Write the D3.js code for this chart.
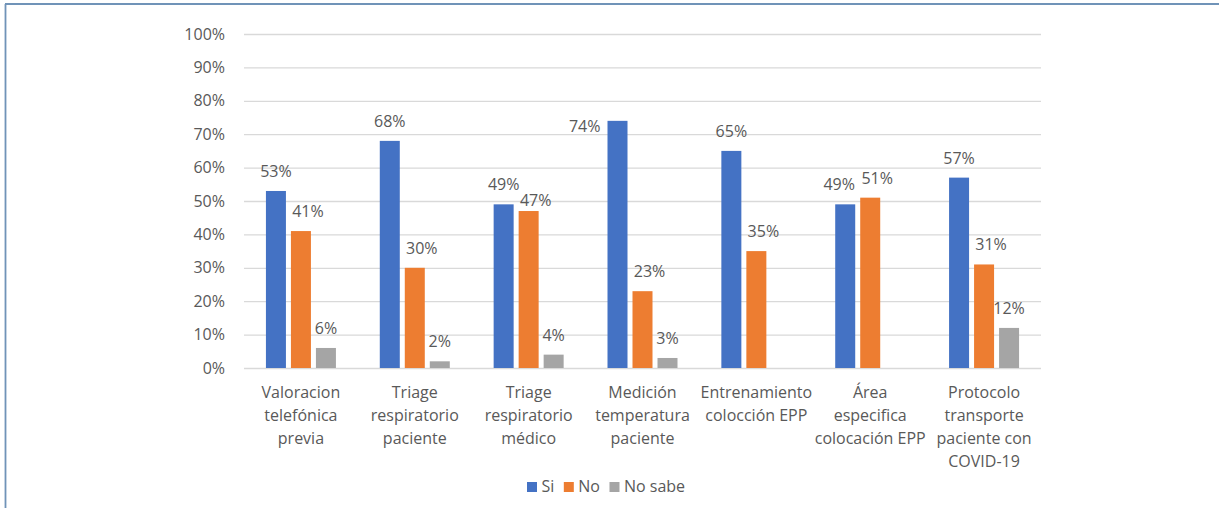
<!DOCTYPE html>
<html><head><meta charset="utf-8">
<script src="https://cdn.jsdelivr.net/npm/d3@7"></script>
<style>html,body{margin:0;padding:0;background:#fff;}svg{display:block;}</style>
</head><body>
<svg id="chart" width="1219" height="508"></svg>
<script>
const categories = [
  ["Valoracion","telefónica","previa"],
  ["Triage","respiratorio","paciente"],
  ["Triage","respiratorio","médico"],
  ["Medición","temperatura","paciente"],
  ["Entrenamiento","colocción EPP"],
  ["Área","especifica","colocación EPP"],
  ["Protocolo","transporte","paciente con","COVID-19"]
];
const seriesNames = ["Si","No","No sabe"];
const siValues = [53,68,49,74,65,49,57];
const noValues = [41,30,47,23,35,51,31];
const noSabeValues = [6,2,4,3,null,null,12];
const yTicks = [0,10,20,30,40,50,60,70,80,90,100];
const colors = ["#4472c4","#ed7d31","#a5a5a5"];

(function(){
const FONT = "'Open Sans', sans-serif";
const FS = "16px";
const TXT = "#595959";
const svg = d3.select("#chart");

// frame (top & left edges visible)
svg.append("line").attr("x1",5).attr("x2",1219).attr("y1",4).attr("y2",4).attr("stroke","#7093b8").attr("stroke-width",1.8);
svg.append("line").attr("x1",5.5).attr("x2",5.5).attr("y1",4).attr("y2",508).attr("stroke","#7093b8").attr("stroke-width",1.8);

const pLeft = 244, pRight = 1041, pTop = 34, pBottom = 368;
const allSeries = [siValues, noValues, noSabeValues];
const idx = d3.range(categories.length);

const x0 = d3.scaleBand().domain(idx).range([pLeft,pRight]).paddingInner(0).paddingOuter(0);
const x1 = d3.scaleBand().domain(d3.range(seriesNames.length)).range([0,70]).paddingInner(0.2).paddingOuter(0);
const groupOffset = (x0.bandwidth()-70)/2;
const y = d3.scaleLinear().domain([0,100]).range([pBottom,pTop]);

// gridlines
const yAxis = d3.axisLeft(y).tickValues(yTicks).tickSize(-(pRight-pLeft)).tickFormat(d=>d+"%").tickPadding(19);
const gy = svg.append("g").attr("transform",`translate(${pLeft},0)`).call(yAxis);
gy.select(".domain").remove();
gy.selectAll(".tick line").attr("stroke","#d9d9d9").attr("stroke-width",1.3);
gy.selectAll(".tick text").attr("fill",TXT).style("font-family",FONT).style("font-size",FS);

// bars
const data = [];
idx.forEach(i=>allSeries.forEach((s,j)=>{ if(s[i]!=null) data.push({i,j,v:s[i]}); }));
const barX = d=>x0(d.i)+groupOffset+x1(d.j);
svg.append("g").selectAll("rect").data(data).join("rect")
  .attr("x",barX)
  .attr("width",x1.bandwidth())
  .attr("y",d=>y(d.v))
  .attr("height",d=>pBottom-y(d.v))
  .attr("fill",d=>colors[d.j]);

// value labels (Excel-like placement with a few nudges to avoid collisions)
const seriesShift = [0,7,0];
const maxV = d3.max(siValues);
const isSide = d=>(d.j===0 && d.v===maxV);
const nudgeX = {"5-0":-6};
const raiseY = {"2-1":5};
svg.append("g").selectAll("text").data(data).join("text")
  .attr("x",d=> isSide(d) ? barX(d)-7 : barX(d)+x1.bandwidth()/2+seriesShift[d.j]+(nudgeX[d.i+"-"+d.j]||0))
  .attr("y",d=> isSide(d) ? y(d.v)+11 : y(d.v)-(raiseY[d.i+"-"+d.j]||14))
  .attr("text-anchor",d=>isSide(d)?"end":"middle")
  .attr("fill",TXT).style("font-family",FONT).style("font-size",FS)
  .text(d=>d.v+"%");

// category labels
const cg = svg.append("g").selectAll("text").data(idx).join("text")
  .attr("x",i=>x0(i)+x0.bandwidth()/2)
  .attr("y",397.5)
  .attr("text-anchor","middle")
  .attr("fill",TXT).style("font-family",FONT).style("font-size",FS);
cg.each(function(i){
  d3.select(this).selectAll("tspan").data(categories[i]).join("tspan")
    .attr("x",x0(i)+x0.bandwidth()/2)
    .attr("dy",(d,k)=>k===0?0:23)
    .text(d=>d);
});

// legend
const lg = svg.append("g").attr("transform","translate(527,482)");
let cx = 0;
seriesNames.forEach((name,k)=>{
  const g = lg.append("g").attr("transform",`translate(${cx},0)`);
  g.append("rect").attr("width",10).attr("height",10).attr("fill",colors[k]);
  const t = g.append("text").attr("x",14.5).attr("y",9.5).attr("fill",TXT)
    .style("font-family",FONT).style("font-size",FS).text(name);
  cx += 14.5 + t.node().getComputedTextLength() + 9.5;
});
})();
</script>
</body></html>
